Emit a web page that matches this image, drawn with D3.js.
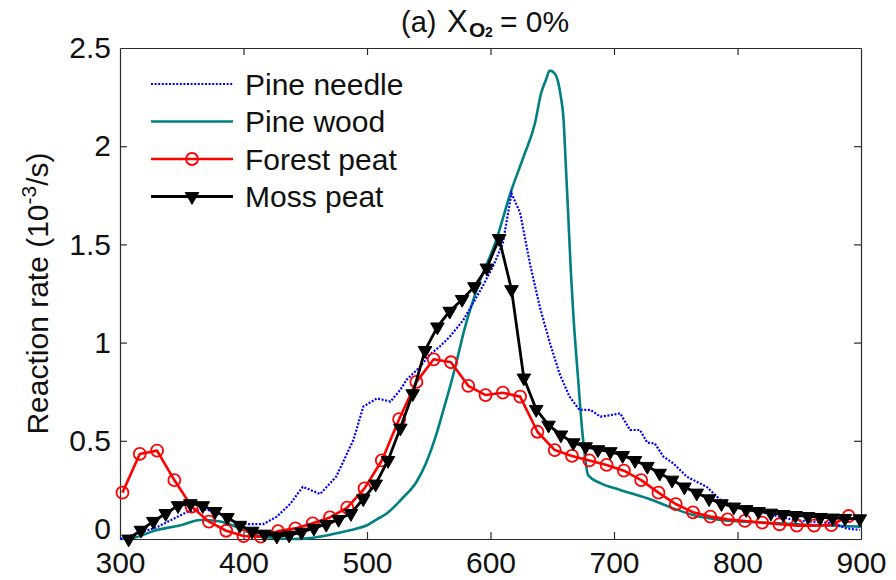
<!DOCTYPE html>
<html>
<head>
<meta charset="utf-8">
<script src="https://cdn.jsdelivr.net/npm/d3@7"></script>
<style>
  html, body { margin: 0; padding: 0; background: #ffffff; }
  svg { display: block; }
  text { font-family: "Liberation Sans", Arial, Helvetica, sans-serif; fill: #111; }
</style>
</head>
<body>
<svg id="chart" width="896" height="580"></svg>
<script>
// Temperature (°C) and reaction rate (10^-3 /s) for each fuel
const pineNeedleT = [300,330,355,370,380,392,403,416,427,438,448,462,475,489,497,508,519,527,532,543,551,559,567,578,592,602,610,617,624,632,640,648,656,664,672,681,689,697,705,713,721,727,733,740,748,759,775,786,797,813,829,845,861,878,888,899];
const pineNeedleV = [0.0,0.06,0.14,0.15,0.13,0.088,0.076,0.076,0.114,0.18,0.266,0.229,0.317,0.504,0.674,0.716,0.70,0.76,0.81,0.877,0.94,0.98,1.03,1.115,1.268,1.387,1.506,1.76,1.66,1.40,1.18,1.0,0.84,0.725,0.657,0.657,0.623,0.63,0.64,0.555,0.555,0.49,0.487,0.42,0.385,0.317,0.266,0.20,0.173,0.148,0.122,0.097,0.088,0.08,0.054,0.046];

const pineWoodT = [300,310,330,349,365,380,395,410,425,440,450,462,481,490,500,508,516,529,540,548,556,562,567,572,579,590,604,617,627,636,641,645,648,652,655,657,659,661,663,665,667,671,674,676.5,679,689,705,727,748,764,786,808,834,861,900];
const pineWoodV = [0.0,0.005,0.046,0.07,0.097,0.09,0.06,0.02,0.005,0.0,0.002,0.012,0.037,0.05,0.07,0.1,0.13,0.21,0.29,0.39,0.53,0.66,0.77,0.89,1.07,1.29,1.51,1.777,1.95,2.117,2.27,2.34,2.385,2.37,2.32,2.25,2.15,1.90,1.64,1.37,1.15,0.81,0.57,0.42,0.326,0.284,0.25,0.207,0.156,0.122,0.097,0.088,0.08,0.071,0.063];

const forestPeatT = [302,316,330,344,358,372,386,400,414,428,442,456,470,484,498,512,526,540,554,568,582,596,610,624,638,652,666,680,694,708,722,736,750,764,778,792,806,820,834,848,862,876,890];
const forestPeatV = [0.236,0.433,0.45,0.30,0.165,0.088,0.042,0.015,0.012,0.04,0.054,0.08,0.11,0.16,0.258,0.40,0.61,0.80,0.915,0.90,0.78,0.733,0.745,0.725,0.546,0.453,0.423,0.40,0.377,0.348,0.30,0.236,0.178,0.136,0.114,0.10,0.092,0.083,0.075,0.068,0.068,0.071,0.117];

const mossPeatT = [307,317,327,337,347,357,367,377,387,397,407,417,427,437,447,457,467,477,487,497,507,517,527,537,547,557,567,577,587,597,607,617,627,637,647,657,667,677,687,697,707,717,727,737,747,757,767,777,787,797,807,817,827,837,847,857,867,877,887,899];
const mossPeatV = [0.0,0.045,0.09,0.13,0.17,0.18,0.17,0.14,0.11,0.07,0.04,0.025,0.015,0.02,0.035,0.055,0.075,0.10,0.13,0.205,0.28,0.40,0.565,0.74,0.96,1.08,1.16,1.22,1.285,1.38,1.53,1.27,0.82,0.66,0.58,0.53,0.49,0.47,0.455,0.445,0.425,0.40,0.37,0.335,0.30,0.265,0.234,0.205,0.18,0.163,0.15,0.14,0.132,0.125,0.12,0.115,0.11,0.107,0.105,0.103];

const xTicks = [300,400,500,600,700,800,900];
const yTicks = [0,0.5,1,1.5,2,2.5];
const seriesNames = ["Pine needle","Pine wood","Forest peat","Moss peat"];

const svg = d3.select("#chart");
const margin = {left: 120, right: 35, top: 48, bottom: 41};
const W = 896, H = 580;
const x = d3.scaleLinear().domain([300, 900]).range([margin.left, W - margin.right]);
const y = d3.scaleLinear().domain([0, 2.5]).range([H - margin.bottom, margin.top]);

const axisColor = "#2b2b2b";
const fontSize = 30;

// Box-style axes with inward ticks on all four sides
const gx = svg.append("g").attr("transform", `translate(0,${y(0)})`)
  .call(d3.axisBottom(x).tickValues(xTicks).tickFormat(d3.format("d")).tickSizeInner(-7).tickSizeOuter(0).tickPadding(13));
const gxTop = svg.append("g").attr("transform", `translate(0,${y(2.5)})`)
  .call(d3.axisTop(x).tickValues(xTicks).tickFormat("").tickSizeInner(-7).tickSizeOuter(0));
const gy = svg.append("g").attr("transform", `translate(${x(300)},0)`)
  .call(d3.axisLeft(y).tickValues(yTicks).tickFormat(d => String(d)).tickSizeInner(-7).tickSizeOuter(0).tickPadding(9));
const gyRight = svg.append("g").attr("transform", `translate(${x(900)},0)`)
  .call(d3.axisRight(y).tickValues(yTicks).tickFormat("").tickSizeInner(-7).tickSizeOuter(0));

[gx, gxTop, gy, gyRight].forEach(g => {
  g.select(".domain").attr("stroke", axisColor).attr("stroke-width", 1.2);
  g.selectAll(".tick line").attr("stroke", axisColor).attr("stroke-width", 1.2);
  g.selectAll(".tick text").attr("font-size", fontSize)
    .attr("font-family", "'Liberation Sans', Arial, sans-serif").attr("fill", "#111");
});
// the zero label sits a little above the corner so it clears the x labels
gy.selectAll(".tick").filter(d => d === 0).select("text").attr("y", -10);
// keep the first/last ticks at the frame corners from doubling up
gx.selectAll(".tick").filter(d => d === 300 || d === 900).select("line").remove();
gxTop.selectAll(".tick").filter(d => d === 300 || d === 900).select("line").remove();
gy.selectAll(".tick").filter(d => d === 0 || d === 2.5).select("line").remove();
gyRight.selectAll(".tick").filter(d => d === 0 || d === 2.5).select("line").remove();

const zip = (ts, vs) => ts.map((t, i) => ({t, v: vs[i]}));
const line = d3.line().x(d => x(d.t)).y(d => y(d.v));
const smooth = d3.line().x(d => x(d.t)).y(d => y(d.v)).curve(d3.curveMonotoneX);

const plot = svg.append("g");

// Pine wood: solid teal
plot.append("path").datum(zip(pineWoodT, pineWoodV))
  .attr("d", smooth).attr("fill", "none").attr("stroke", "#008080").attr("stroke-width", 2.6)
  .attr("stroke-linejoin", "round");

// Pine needle: dotted blue
plot.append("path").datum(zip(pineNeedleT, pineNeedleV))
  .attr("d", line).attr("fill", "none").attr("stroke", "#0000ff").attr("stroke-width", 2.2)
  .attr("stroke-dasharray", "2,1.6");

// Forest peat: red line with open circles
const fp = zip(forestPeatT, forestPeatV);
plot.append("path").datum(fp)
  .attr("d", line).attr("fill", "none").attr("stroke", "#ff0000").attr("stroke-width", 2.6)
  .attr("stroke-linejoin", "round");
plot.selectAll("circle.fp").data(fp).join("circle").attr("class", "fp")
  .attr("cx", d => x(d.t)).attr("cy", d => y(d.v)).attr("r", 6)
  .attr("fill", "none").attr("stroke", "#ff0000").attr("stroke-width", 1.8);

// Moss peat: black line with filled down-triangles
const mp = zip(mossPeatT, mossPeatV);
plot.append("path").datum(mp)
  .attr("d", line).attr("fill", "none").attr("stroke", "#000").attr("stroke-width", 2.8)
  .attr("stroke-linejoin", "round");
const tri = d3.symbol(d3.symbolTriangle, 80);
plot.selectAll("path.mp").data(mp).join("path").attr("class", "mp")
  .attr("d", tri).attr("transform", d => `translate(${x(d.t)},${y(d.v)}) rotate(180)`)
  .attr("fill", "#000").attr("stroke", "#000").attr("stroke-width", 1);

// Legend
const legend = svg.append("g");
const legX0 = 151, legX1 = 233, legTextX = 245;
const legY = [84, 121.5, 159, 196.5];
const legStyles = [
  {stroke: "#0000ff", width: 2.2, dash: "2,1.6", marker: null},
  {stroke: "#008080", width: 2.6, dash: null, marker: null},
  {stroke: "#ff0000", width: 2.6, dash: null, marker: "circle"},
  {stroke: "#000000", width: 2.8, dash: null, marker: "tri"}
];
seriesNames.forEach((name, i) => {
  const s = legStyles[i];
  const ly = legY[i];
  const ln = legend.append("line").attr("x1", legX0).attr("x2", legX1).attr("y1", ly).attr("y2", ly)
    .attr("stroke", s.stroke).attr("stroke-width", s.width);
  if (s.dash) ln.attr("stroke-dasharray", s.dash);
  const mx = (legX0 + legX1) / 2;
  if (s.marker === "circle") {
    legend.append("circle").attr("cx", mx).attr("cy", ly).attr("r", 6)
      .attr("fill", "none").attr("stroke", s.stroke).attr("stroke-width", 1.8);
  } else if (s.marker === "tri") {
    legend.append("path").attr("d", tri).attr("transform", `translate(${mx},${ly}) rotate(180)`)
      .attr("fill", "#000").attr("stroke", "#000");
  }
  legend.append("text").attr("x", legTextX).attr("y", ly + 10.5)
    .attr("font-size", fontSize).text(name);
});

// Y-axis title with superscript exponent
const yTitle = svg.append("text")
  .attr("transform", `translate(48,${(y(0) + y(2.5)) / 2}) rotate(-90)`)
  .attr("text-anchor", "middle").attr("font-size", fontSize);
yTitle.append("tspan").text("Reaction rate (10");
yTitle.append("tspan").attr("font-size", 21).attr("dy", -12).text("-3");
yTitle.append("tspan").attr("dy", 12).text("/s)");

// Chart title: (a) X with subscript O2 = 0%
const title = svg.append("text").attr("y", 32).attr("font-size", 29);
title.append("tspan").attr("x", 401).text("(a)");
title.append("tspan").attr("x", 447).attr("font-size", 31).text("X");
title.append("tspan").attr("x", 469).attr("y", 37).attr("font-size", 21).attr("font-weight", "bold").text("O");
title.append("tspan").attr("x", 485).attr("y", 37).attr("font-size", 14).attr("font-weight", "bold").text("2");
title.append("tspan").attr("x", 500).attr("y", 32).attr("font-size", 30).text("= 0%");
</script>
</body>
</html>
